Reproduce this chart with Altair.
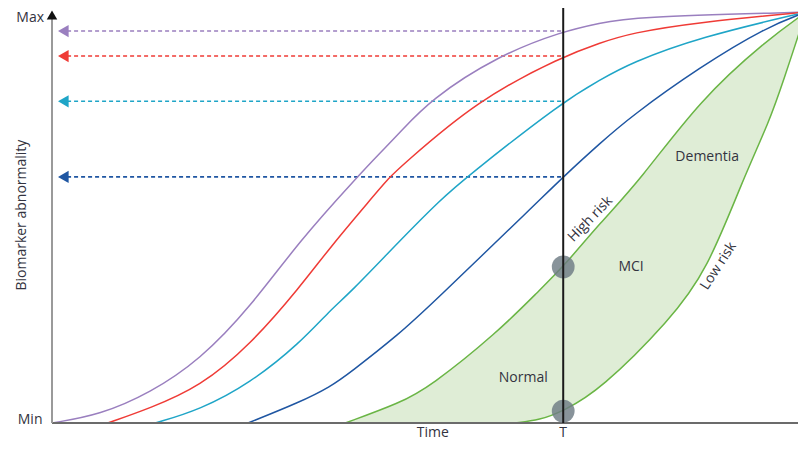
import altair as alt
import pandas as pd

# ---- values (time 0-100, abnormality 0-100) ----
series_names = ["purple", "red", "cyan", "blue", "high", "low"]
series_colors = ["#9a7fbf", "#ef3b36", "#1fa5c7", "#1f56a2", "#6ab545", "#6ab545"]

purple_t = [0, 6.4, 13.0, 19.6, 26.3, 32.9, 40.5, 43.5, 46.2, 50.1, 59.0, 67.8, 72.7, 76.7, 100]
purple_v = [0, 2.0, 7.3, 15.3, 28.2, 44.5, 59.9, 65.7, 70.8, 78.6, 89.3, 95.4, 97.3, 98.8, 100]

red_t = [7.4, 13.0, 19.6, 26.3, 32.9, 36.9, 42.2, 44.8, 46.2, 56.4, 67.8, 72.7, 76.7, 85.9, 100]
red_v = [0, 3.6, 8.8, 19.0, 33.1, 42.8, 54.3, 59.9, 62.3, 78.6, 89.3, 92.5, 94.9, 97.6, 100]

cyan_t = [13.7, 19.6, 26.3, 32.9, 36.9, 39.5, 46.2, 51.5, 55.0, 67.8, 72.7, 76.7, 85.9, 100]
cyan_v = [0, 3.2, 9.7, 19.5, 27.5, 31.6, 44.5, 54.3, 59.9, 78.3, 83.5, 87.6, 93.9, 100]

blue_t = [26.0, 32.9, 36.9, 39.5, 46.2, 50.1, 64.7, 67.8, 72.7, 76.7, 85.9, 94.8, 100]
blue_v = [0, 5.1, 8.8, 12.2, 21.9, 28.5, 54.3, 59.9, 68.1, 74.5, 86.6, 96.4, 100]

high_t = [38.9, 46.2, 50.1, 59.0, 64.7, 67.8, 72.7, 78.0, 85.9, 94.8, 100]
high_v = [0, 4.9, 8.8, 21.9, 32.4, 38.0, 48.7, 59.1, 78.6, 93.2, 100]

low_t = [61.4, 64.7, 67.8, 72.7, 82.0, 86.9, 91.6, 95.2, 96.9, 100]
low_v = [0, 0.7, 2.9, 8.0, 25.1, 37.2, 59.1, 73.7, 82.7, 100]

T_time = 67.8
arrow_series = ["purple", "red", "cyan", "blue"]
arrow_levels = [95.4, 89.3, 78.3, 59.9]
arrow_start = 2.0
arrow_head = 1.5

circle_levels = [38.0, 2.9]

labels = ["Max", "Min", "Dementia", "MCI", "Normal"]
label_t = [-2.9, -2.9, 86.9, 76.8, 62.5]
label_v = [98.6, 0.8, 64.7, 38.0, 10.9]

axis_labels = ["Time", "T"]
axis_label_t = [50.5, 67.8]
axis_label_v = [-4.1, -4.1]

rot_labels = ["Biomarker abnormality", "High risk", "Low risk"]
rot_t = [-4.0, 71.4, 88.4]
rot_v = [50.6, 49.6, 38.2]
rot_angle = [270, 314, 303]

# ---- scales ----
XS = alt.Scale(domain=[0, 100], range=[0, 754], zero=False, nice=False)
YS = alt.Scale(domain=[0, 101], zero=False, nice=False)
CS = alt.Scale(domain=series_names, range=series_colors)
INTERP = "basis"


def X(f="t"):
    return alt.X(f"{f}:Q", scale=XS, axis=None)


def Y(f="v"):
    return alt.Y(f"{f}:Q", scale=YS, axis=None)


def curve(name, ts, vs):
    return pd.DataFrame({"series": name, "t": ts, "v": vs})


curves = pd.concat([
    curve("purple", purple_t, purple_v),
    curve("red", red_t, red_v),
    curve("cyan", cyan_t, cyan_v),
    curve("blue", blue_t, blue_v),
    curve("high", high_t, high_v),
    curve("low", low_t, low_v),
])
high_df = curve("high", high_t, high_v)
low_df = curve("low", low_t, low_v)

fill_high = alt.Chart(high_df).mark_area(interpolate=INTERP, color="#dfedd6", opacity=1).encode(
    x=X(), y=Y())
fill_low = alt.Chart(low_df).mark_area(interpolate=INTERP, color="#ffffff", opacity=1).encode(
    x=X(), y=Y())

arrows_df = pd.DataFrame({"series": arrow_series, "v": arrow_levels,
                          "t0": arrow_start, "t1": T_time, "th": arrow_head})
dashes = alt.Chart(arrows_df).mark_rule(strokeDash=[4, 3], strokeWidth=1.6).encode(
    x=X("t0"), x2="t1:Q", y=Y(),
    color=alt.Color("series:N", scale=CS, legend=None))
heads = alt.Chart(arrows_df).mark_point(shape="triangle-left", filled=True, size=150, opacity=1).encode(
    x=X("th"), y=Y(),
    color=alt.Color("series:N", scale=CS, legend=None))

lines = alt.Chart(curves).mark_line(interpolate=INTERP, strokeWidth=1.5).encode(
    x=X(), y=Y(), detail="series:N",
    color=alt.Color("series:N", scale=CS, legend=None))

axes_df = pd.DataFrame({"t": [0], "v": [0], "tend": [100], "vend": [99]})
x_axis = alt.Chart(axes_df).mark_rule(color="#6b6b6b", strokeWidth=2.2).encode(
    x=X(), x2="tend:Q", y=Y())
y_axis = alt.Chart(axes_df).mark_rule(color="#9a9a9a", strokeWidth=2).encode(
    x=X(), y=Y(), y2="vend:Q")
y_arrow = alt.Chart(pd.DataFrame({"t": [0], "v": [99.3]})).mark_point(
    shape="triangle-up", filled=True, size=110, color="#111111", opacity=1).encode(x=X(), y=Y())

t_df = pd.DataFrame({"t": [T_time], "v": [0], "vend": [101]})
t_line = alt.Chart(t_df).mark_rule(color="#1a1a1a", strokeWidth=2).encode(
    x=X(), y=Y(), y2="vend:Q")

circ_df = pd.DataFrame({"t": T_time, "v": circle_levels})
circles = alt.Chart(circ_df).mark_circle(size=520, color="#6e7b84", opacity=0.82).encode(
    x=X(), y=Y())

lab_df = pd.DataFrame({"label": labels, "t": label_t, "v": label_v})
texts = alt.Chart(lab_df).mark_text(font="Open Sans", fontSize=14, color="#333340").encode(
    x=X(), y=Y(), text="label:N")

ax_lab_df = pd.DataFrame({"label": axis_labels, "t": axis_label_t, "v": axis_label_v})
ax_texts = alt.Chart(ax_lab_df).mark_text(font="Open Sans", fontSize=14, color="#333340",
                                          baseline="bottom").encode(
    x=X(), y=Y(), text="label:N")

rot_df = pd.DataFrame({"label": rot_labels, "t": rot_t, "v": rot_v, "a": rot_angle})
rot_texts = alt.Chart(rot_df).mark_text(font="Open Sans", fontSize=14, color="#333340").encode(
    x=X(), y=Y(), text="label:N", angle=alt.Angle("a:Q", scale=None))

chart = alt.layer(
    fill_high, fill_low, dashes, heads, lines, x_axis, y_axis, y_arrow,
    circles, t_line, texts, ax_texts, rot_texts
).properties(
    width=746, height=415,
    padding={"left": 44, "top": 0, "right": 0, "bottom": 18},
    autosize=alt.AutoSizeParams(type="none"),
).configure_view(stroke=None)

chart.save("out.html", embed_options={"renderer": "svg", "actions": False})
